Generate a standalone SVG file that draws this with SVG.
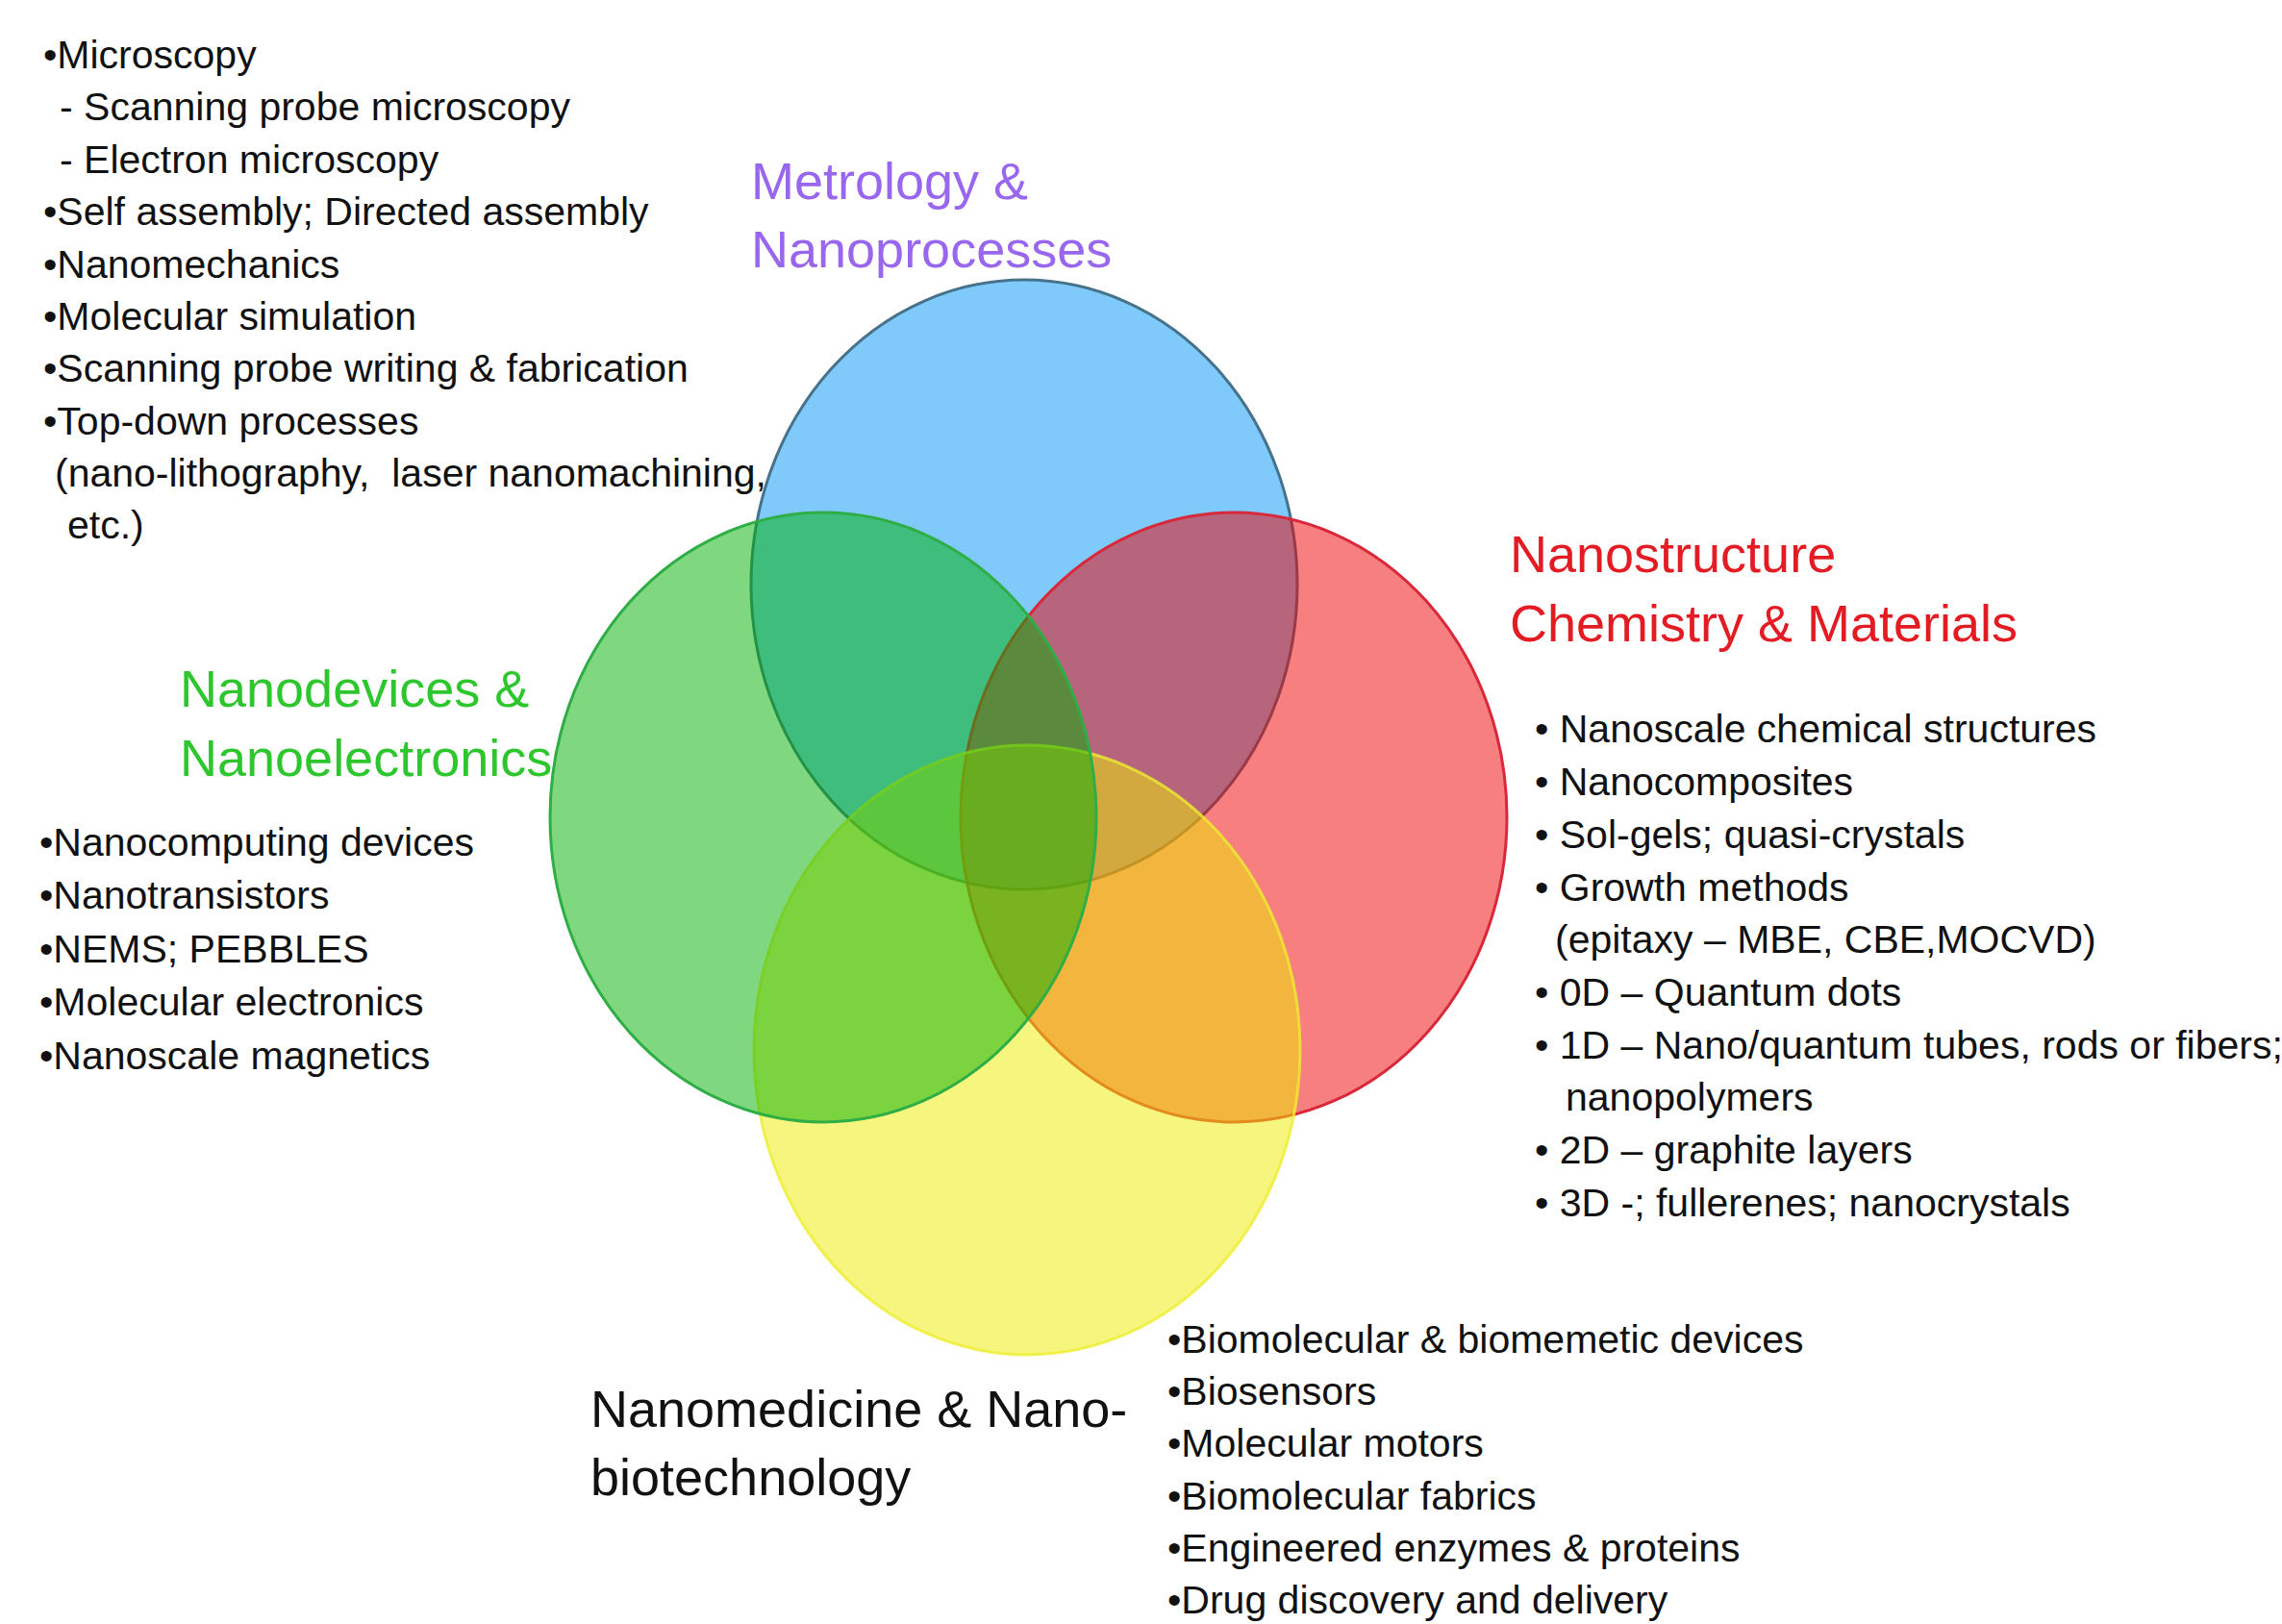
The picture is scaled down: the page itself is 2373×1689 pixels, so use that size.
<svg xmlns="http://www.w3.org/2000/svg" width="2373" height="1689" viewBox="0 0 2373 1689">
  <style>
    text { font-family: "Liberation Sans", Arial, sans-serif; white-space: pre; }
    .head { font-size: 54px; }
    .body { font-size: 41px; fill: #111111; }
    .set { fill-opacity: 0.5; stroke-width: 3; }
  </style>
  <rect width="2373" height="1689" fill="#ffffff"/>

  <!-- Metrology & Nanoprocesses (top) -->
  <g id="metrology">
    <ellipse class="set" cx="1065" cy="608" rx="284" ry="317" fill="#0096F5" stroke="#46728C"/>
    <text class="head" fill="#9966EE" x="781" y="207">Metrology &amp;</text>
    <text class="head" fill="#9966EE" x="781" y="278">Nanoprocesses</text>
    <text class="body" x="45" y="71">•Microscopy</text>
    <text class="body" x="62" y="125">- Scanning probe microscopy</text>
    <text class="body" x="62" y="180">- Electron microscopy</text>
    <text class="body" x="45" y="234">•Self assembly; Directed assembly</text>
    <text class="body" x="45" y="289">•Nanomechanics</text>
    <text class="body" x="45" y="343">•Molecular simulation</text>
    <text class="body" x="45" y="397">•Scanning probe writing &amp; fabrication</text>
    <text class="body" x="45" y="452">•Top-down processes</text>
    <text class="body" x="57" y="506">(nano-lithography,  laser nanomachining,</text>
    <text class="body" x="70" y="560">etc.)</text>
  </g>

  <!-- Nanostructure Chemistry & Materials (right) -->
  <g id="nanostructure">
    <ellipse class="set" cx="1283" cy="850" rx="284" ry="317" fill="#F00000" stroke="#D8283A"/>
    <text class="head" fill="#E31B23" x="1570" y="595">Nanostructure</text>
    <text class="head" fill="#E31B23" x="1570" y="667">Chemistry &amp; Materials</text>
    <text class="body" x="1596" y="772">• Nanoscale chemical structures</text>
    <text class="body" x="1596" y="827">• Nanocomposites</text>
    <text class="body" x="1596" y="882">• Sol-gels; quasi-crystals</text>
    <text class="body" x="1596" y="937">• Growth methods</text>
    <text class="body" x="1617" y="991">(epitaxy – MBE, CBE,MOCVD)</text>
    <text class="body" x="1596" y="1046">• 0D – Quantum dots</text>
    <text class="body" x="1596" y="1101">• 1D – Nano/quantum tubes, rods or fibers;</text>
    <text class="body" x="1628" y="1155">nanopolymers</text>
    <text class="body" x="1596" y="1210">• 2D – graphite layers</text>
    <text class="body" x="1596" y="1265">• 3D -; fullerenes; nanocrystals</text>
  </g>

  <!-- Nanomedicine & Nano-biotechnology (bottom) -->
  <g id="nanomedicine">
    <ellipse class="set" cx="1068" cy="1092" rx="284" ry="317" fill="#EEEE00" stroke="#EEEE30" stroke-opacity="0.8"/>
    <text class="head" fill="#111111" x="614" y="1484">Nanomedicine &amp; Nano-</text>
    <text class="head" fill="#111111" x="614" y="1555">biotechnology</text>
    <text class="body" x="1214" y="1407">•Biomolecular &amp; biomemetic devices</text>
    <text class="body" x="1214" y="1461">•Biosensors</text>
    <text class="body" x="1214" y="1515">•Molecular motors</text>
    <text class="body" x="1214" y="1570">•Biomolecular fabrics</text>
    <text class="body" x="1214" y="1624">•Engineered enzymes &amp; proteins</text>
    <text class="body" x="1214" y="1678">•Drug discovery and delivery</text>
  </g>

  <!-- Nanodevices & Nanoelectronics (left) -->
  <g id="nanodevices">
    <ellipse class="set" cx="856" cy="850" rx="284" ry="317" fill="#00AF00" stroke="#2EAE45"/>
    <text class="head" fill="#2DC62D" x="187" y="735">Nanodevices &amp;</text>
    <text class="head" fill="#2DC62D" x="187" y="807">Nanoelectronics</text>
    <text class="body" x="41" y="890">•Nanocomputing devices</text>
    <text class="body" x="41" y="945">•Nanotransistors</text>
    <text class="body" x="41" y="1001">•NEMS; PEBBLES</text>
    <text class="body" x="41" y="1056">•Molecular electronics</text>
    <text class="body" x="41" y="1112">•Nanoscale magnetics</text>
  </g>

  <g id="connectors"/>
</svg>
